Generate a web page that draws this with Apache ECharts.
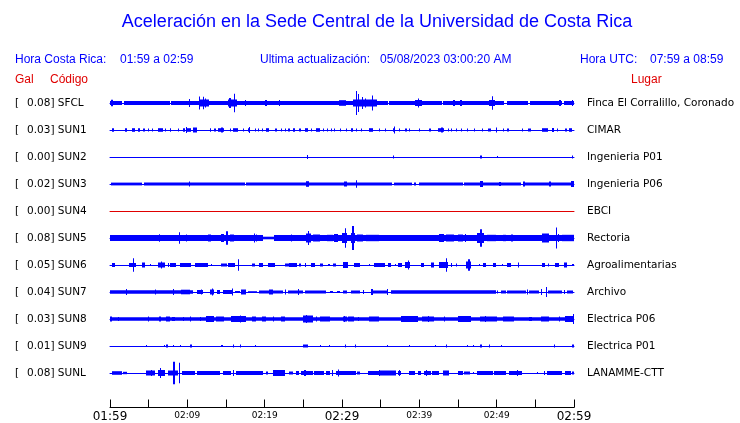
<!DOCTYPE html>
<html><head><meta charset="utf-8">
<script src="https://cdn.jsdelivr.net/npm/echarts@6/dist/echarts.min.js"></script>
<style>html,body{margin:0;padding:0;background:#fff}#c{width:740px;height:423px}</style>
</head><body><div id="c"></div>
<script>
// ---- data (minutes since 01:59, segments [start, end, half-amplitude]) ----
const codes = ['SFCL','SUN1','SUN2','SUN3','SUN4','SUN5','SUN6','SUN7','SUN8','SUN9','SUNL'];
const places = ['Finca El Corralillo, Coronado','CIMAR','Ingenieria P01','Ingenieria P06','EBCI','Rectoria','Agroalimentarias','Archivo','Electrica P06','Electrica P01','LANAMME-CTT'];
const gal = ['0.08','0.03','0.00','0.02','0.00','0.08','0.05','0.04','0.03','0.01','0.08'];
const offline = ['SUN4'];
const tickLabels = ['01:59','','02:09','','02:19','','02:29','','02:39','','02:49','','02:59'];
const majorLabels = ['01:59','02:29','02:59'];
const timeMin = 0, timeMax = 60, tickStep = 5;

const sfcl = [[0,1.5,2],[1.8,7.7,2],[7.95,35.9,2],[36.1,42.9,2],[43.1,51.0,2],[51.3,54.1,2],[54.3,58.5,2],[58.7,60,2],
 [0.1,0.35,3.3],[10.2,10.35,4],[11.5,12.8,3.5],[11.55,11.7,6.5],[12.0,12.15,6.2],[12.3,12.45,4.5],[15.3,16.4,3.5],[15.45,15.6,5],[16.0,16.15,9.3],[17.4,17.6,3],[20.1,20.3,3],[21.8,22.0,3],[29.6,30.5,2.8],[31.4,34.5,3.5],[31.75,31.9,12],[32.1,32.25,9],[32.6,32.75,6],[33.0,33.15,4.5],[33.9,34.05,7.5],[39.5,40.3,3],[39.85,40.0,4.5],[44.4,44.6,3],[45.3,45.5,3],[49.0,49.8,3],[49.35,49.5,6.7],[58.1,58.3,3],[59.7,59.9,3]];
const sun1 = [[0.2,0.5,1.8],[1.9,2.15,1.8],[2.8,3.2,1.8],[3.65,3.9,1.8],[4.3,4.5,1.5],[4.95,5.1,1.5],[5.4,5.55,1.5],[6.2,6.9,1.8],[7.1,7.3,1.5],[7.7,7.95,1.8],[8.8,8.95,1.5],[9.45,9.7,1.8],[9.8,9.95,3],[10.0,10.5,1.8],[10.75,11.2,2.5],[12.9,13.1,1.8],[13.5,13.65,1.5],[14.0,14.8,1.8],[14.3,14.6,2.5],[15.5,15.7,1.5],[15.9,16.6,1.8],[17.2,17.35,1.5],[17.9,18.15,1.8],[17.95,18.1,3],[18.7,18.85,1.5],[19.1,19.25,1.5],[19.6,19.75,1.5],[20.2,20.6,1.8],[21.3,21.45,1.5],[21.5,21.65,1.5],[22.15,22.3,1.5],[22.6,22.75,1.5],[23.0,23.3,1.5],[23.65,23.9,1.8],[24.5,24.65,1.5],[25.2,25.6,1.8],[26.0,26.15,1.5],[26.7,27.1,1.8],[27.5,27.65,1.5],[28.0,28.15,1.5],[28.6,28.75,1.5],[29.0,29.15,1.5],[29.7,29.85,1.5],[30.5,30.65,1.5],[31.2,31.4,1.8],[31.8,31.95,1.5],[32.4,32.55,1.5],[33.5,34.0,1.8],[34.8,34.95,1.5],[35.5,35.65,1.5],[36.6,36.9,1.8],[36.7,36.85,3.5],[37.4,37.55,1.5],[38.2,38.35,1.5],[38.7,38.85,1.5],[40.0,40.15,1.5],[41.3,41.45,1.5],[42.4,43.2,1.8],[42.85,43.0,2.5],[43.7,43.85,1.5],[44.1,44.25,1.5],[44.7,44.85,1.5],[45.4,45.55,1.5],[46.2,46.35,1.5],[47.1,47.25,1.5],[48.1,48.25,1.5],[48.9,49.3,1.5],[49.85,50.05,2.5],[50.8,50.95,1.5],[51.4,51.55,1.5],[53.3,53.45,1.5],[54.1,54.5,1.5],[55.8,56.6,1.8],[57.2,57.35,2],[57.8,57.95,1.5],[58.9,59.05,1.5],[59.3,59.8,1.8]];
const sun2 = [[25.45,25.6,2],[36.55,36.7,1.5],[47.9,48.15,1.5],[50.0,50.1,1],[59.7,59.9,1.5]];
const sun3 = [[0.1,4.2,1.4],[4.35,17.5,1.4],[17.65,25.6,1.4],[25.75,36.5,1.4],[36.7,39.0,1.4],[39.3,39.6,1.4],[39.9,45.6,1.4],[45.8,53.2,1.4],[53.4,60,1.4],
 [10.25,10.4,2.5],[25.3,25.7,2.8],[30.2,30.7,2.5],[31.75,31.9,3.8],[47.9,48.2,3],[50.35,50.5,2],[53.4,53.6,2.5],[56.8,57.0,2.5],[59.6,60,3]];
const sun4 = [];
const sun5 = [[0,19.8,2.9],[19.8,21.2,1.3],[21.2,60,2.9],
 [6.35,6.5,3.8],[8.95,9.1,5.8],[9.8,10.0,3.5],[12.7,13.0,3.5],[14.3,14.8,4],[15.05,15.2,6.7],[15.5,16.0,3.5],[18.6,18.75,4.5],[18.85,19.0,3.5],[23.4,23.55,3.5],[25.3,26.0,4.5],[25.55,25.7,7],[26.2,27.1,3.5],[28.0,28.9,3.2],[29.0,29.5,4],[30.0,30.7,5],[30.35,30.5,9.7],[31.1,31.7,5],[31.35,31.5,12],[32.0,32.7,3.5],[33.1,34.8,3.2],[42.6,43.2,4],[43.4,44.5,3.5],[45.0,45.6,3.5],[45.9,46.05,4],[47.5,48.4,5],[47.9,48.05,8.7],[48.8,49.9,3.2],[50.8,51.2,3.2],[51.8,52.1,3.5],[55.9,56.8,4.5],[57.7,57.85,10.5],[57.9,58.1,4],[58.5,60,3.2]];
const sun6 = [[0.2,0.65,2],[2.4,3.4,2],[2.95,3.1,6.7],[4.2,4.5,2.5],[5.15,5.3,1],[6.2,7.1,2.5],[6.6,6.75,3.5],[7.5,7.65,2],[7.75,8.5,2],[9.0,10.5,2],[11.0,12.7,2],[13.1,13.25,1],[14.4,15.1,1.5],[15.3,16.1,2],[16.55,16.7,5.8],[18.3,18.8,1.5],[19.3,19.8,2],[20.4,21.3,2],[22.6,23.1,1.5],[23.2,24.2,2],[24.5,24.75,1.5],[25.2,25.4,2],[26.0,26.5,2],[27.1,27.6,1.5],[28.2,28.4,1],[28.8,29.2,1.5],[30.1,30.8,3],[31.6,32.3,2],[33.5,33.65,1],[34.2,35.5,2],[35.9,36.3,2],[36.8,36.95,1],[37.2,37.7,2],[38.1,38.8,3],[38.5,38.65,4.5],[40.2,40.6,2],[41.5,41.9,2.5],[42.6,43.7,3],[43.45,43.6,6.7],[44.1,44.25,2],[44.7,44.85,1.5],[46.0,46.7,3.5],[46.35,46.5,5.8],[47.7,47.85,1],[48.2,48.6,2],[49.5,49.9,2],[50.7,50.85,1],[51.4,51.8,2],[52.7,52.95,2.5],[55.9,56.3,2],[56.6,56.8,1.5],[57.6,58.0,2],[58.7,59.1,2.5],[59.8,59.95,1]];
const sun7 = [[0,10.75,1.8],[2.1,2.25,3],[5.8,5.95,2.5],[8.15,8.3,3],[9.2,10.3,2.3],[11.2,12.0,2],[11.8,11.95,2.5],[12.9,13.5,2.5],[13.2,13.35,3.5],[13.8,14.2,2],[14.6,15.9,2],[15.75,15.9,3.5],[16.1,16.8,1],[17.0,17.6,2.5],[17.8,19.0,0.8],[19.3,20.6,1.5],[20.6,21.1,2.5],[21.1,22.4,1.5],[22.6,22.8,2.5],[23.0,24.9,1.5],[24.3,24.45,3],[25.2,27.9,1.5],[28.4,28.8,1],[29.3,29.7,1],[30.1,30.7,1.5],[31.2,32.3,1.5],[32.7,32.9,2],[33.8,33.95,3],[33.95,35.9,1.5],[35.85,36.0,3],[36.3,49.9,1.8],[50.0,50.15,1.5],[50.6,51.2,1.5],[51.4,53.8,1.5],[53.95,54.1,2.5],[54.2,55.5,1.5],[55.75,55.9,3],[56.35,56.5,5],[56.6,58.5,1.5],[58.65,58.8,2],[59.1,59.9,1.5]];
const sun8 = [[0,60,1.8],
 [0,0.25,2.5],[1.0,1.1,2],[4.9,5.05,2.5],[6.4,6.55,2.5],[7.3,7.7,2.5],[8.0,8.4,2],[9.45,9.6,2],[10.3,10.45,2.5],[11.6,11.75,2],[12.4,13.5,3],[13.75,14.8,2.5],[15.7,17.6,3],[16.75,16.9,3.5],[18.3,18.9,2.5],[19.6,20.2,2.5],[21.05,21.2,2.5],[22.1,22.6,2.5],[24.9,26.2,3.5],[25.3,25.45,4],[26.6,26.75,2.5],[27.1,28.4,2.5],[30.1,30.6,2.5],[30.3,30.45,3],[30.75,31.6,2.5],[32.05,32.2,2],[33.55,34.8,2.5],[37.6,39.8,3],[40.4,41.9,2.5],[41.15,41.3,3],[43.2,43.35,2.5],[45.0,46.7,3],[47.9,50.1,2.5],[48.5,48.65,3],[50.8,52.3,2.5],[54.2,54.6,2],[55.7,56.8,2.5],[58.0,58.15,2.5],[58.9,60,3],[59.85,60,5]];
const sun9 = [[4.65,4.8,1],[6.95,7.1,1],[7.3,7.45,1.5],[8.1,8.25,1],[9.0,9.15,1],[10.3,10.55,1.5],[14.4,14.55,1],[15.9,16.05,1.5],[16.75,16.9,1.5],[18.7,18.85,1],[24.9,25.6,1.5],[27.1,27.25,1],[28.3,28.45,1],[30.4,30.55,1.5],[31.7,31.85,1.5],[35.8,35.95,1],[38.6,38.75,1],[42.0,42.15,1],[43.4,43.55,1.5],[46.2,46.35,1],[46.9,47.05,1],[47.9,48.15,1.5],[48.95,49.1,1.5],[50.5,50.65,1],[57.4,57.55,1.5],[59.8,60,1.5]];
const sunl = [[0.2,1.5,1.8],[1.7,2.15,1.2],[4.7,5.8,2.5],[5.3,5.45,3],[6.2,7.1,3],[6.45,6.6,5],[7.5,8.8,2.5],[8.2,8.35,11.3],[8.95,9.1,10.3],[9.25,11.0,2],[11.2,14.2,2],[14.6,15.7,2],[15.85,16.0,3],[16.3,19.8,2],[20.2,20.4,1.5],[21.1,22.6,3],[23.2,23.6,1.5],[24.1,24.5,2],[24.7,26.2,2],[25.15,25.3,3],[26.4,27.7,2],[27.9,28.4,2],[28.75,28.9,3],[29.2,30.1,2],[29.45,29.6,3.5],[30.1,31.8,2],[32.0,32.3,1.5],[33.3,34.8,2],[34.75,34.9,3],[34.9,37.0,2.5],[37.2,37.6,2],[37.35,37.5,3],[38.7,39.4,2],[39.8,40.2,2],[40.6,41.5,2],[40.85,41.0,3],[41.7,42.6,2],[43.0,43.9,2.5],[45.0,45.6,2],[45.8,46.5,1.5],[46.9,47.05,1],[47.5,49.5,2],[49.7,51.2,2],[51.6,53.3,2],[52.6,52.75,3],[55.2,55.35,1],[56.1,56.3,2],[56.5,58.5,2],[58.9,59.6,2],[59.8,60,1.5]];
const traces = [sfcl, sun1, sun2, sun3, sun4, sun5, sun6, sun7, sun8, sun9, sunl];

// ---- styles / layout ----
const BLUE = '#0000ff', RED = '#e00000', TXT = '#000000';
const plotLeft = 110, plotWidth = 464, rowTop = 103, rowGap = 27, halfRow = 13.5;
const sans = 'Liberation Sans, Arial, sans-serif';
const dj = 'DejaVu Sans, sans-serif';
const lblFont = '10.5px ' + dj;

const grids = [], xAxes = [], yAxes = [], series = [], graphics = [];
codes.forEach((code, i) => {
  const cy = rowTop + rowGap * i;
  const col = offline.includes(code) ? RED : BLUE;
  grids.push({left: plotLeft, width: plotWidth, top: cy - halfRow, height: halfRow * 2});
  xAxes.push({gridIndex: i, type: 'value', min: timeMin, max: timeMax,
    axisLine: {show: true, onZero: true, lineStyle: {color: col, width: 1}},
    axisTick: {show: false}, axisLabel: {show: false}, splitLine: {show: false}});
  yAxes.push({gridIndex: i, type: 'value', min: -halfRow, max: halfRow, show: false, splitLine: {show: false}});
  series.push({type: 'custom', xAxisIndex: i, yAxisIndex: i, data: traces[i], silent: true, clip: false,
    renderItem(params, api) {
      const a = api.value(2);
      const p0 = api.coord([api.value(0), a]);
      const p1 = api.coord([api.value(1), -a]);
      const x = Math.round(p0[0]);
      const w = Math.max(1, Math.round(p1[0]) - x);
      return {type: 'rect', shape: {x: x, y: p0[1], width: w, height: p1[1] - p0[1]}, style: {fill: col}};
    }});
  graphics.push({type: 'text', x: 15, y: cy, style: {text: '[', font: lblFont, fill: TXT, verticalAlign: 'middle'}});
  graphics.push({type: 'text', x: 27, y: cy, style: {text: gal[i] + '] ' + code, font: lblFont, fill: TXT, verticalAlign: 'middle'}});
  graphics.push({type: 'text', x: 587, y: cy, style: {text: places[i], font: lblFont, fill: TXT, verticalAlign: 'middle'}});
});

// time axis grid
const ti = codes.length;
grids.push({left: plotLeft, width: plotWidth, top: 380, height: 29});
xAxes.push({gridIndex: ti, type: 'value', min: timeMin, max: timeMax, interval: tickStep,
  axisLine: {show: true, lineStyle: {color: '#000', width: 1}},
  axisTick: {show: true, inside: true, length: 8, lineStyle: {color: '#000'}},
  splitLine: {show: false},
  axisLabel: {show: true, margin: 2, showMinLabel: true, showMaxLabel: true, hideOverlap: false,
    formatter: (v) => {
      const t = tickLabels[Math.round((v - timeMin) / tickStep)] || '';
      if (!t) return '';
      return majorLabels.includes(t) ? '{b|' + t + '}' : '{s|' + t + '}';
    },
    rich: {b: {fontSize: 12, lineHeight: 15, fontFamily: dj, color: '#000'},
           s: {fontSize: 9, lineHeight: 12, fontFamily: dj, color: '#000'}}}});
yAxes.push({gridIndex: ti, type: 'value', min: 0, max: 1, show: false});

// header texts
graphics.push({type: 'text', x: 377, y: 22, style: {text: 'Aceleración en la Sede Central de la Universidad de Costa Rica', font: '18px ' + sans, fill: BLUE, align: 'center', verticalAlign: 'middle'}});
graphics.push({type: 'text', x: 15, y: 60, style: {text: 'Hora Costa Rica:', font: '12px ' + sans, fill: BLUE, verticalAlign: 'middle'}});
graphics.push({type: 'text', x: 120, y: 60, style: {text: '01:59 a 02:59', font: '12px ' + sans, fill: BLUE, verticalAlign: 'middle'}});
graphics.push({type: 'text', x: 260, y: 60, style: {text: 'Ultima actualización:', font: '12px ' + sans, fill: BLUE, verticalAlign: 'middle'}});
graphics.push({type: 'text', x: 380, y: 60, style: {text: '05/08/2023 03:00:20 AM', font: '12px ' + sans, fill: BLUE, verticalAlign: 'middle'}});
graphics.push({type: 'text', x: 580, y: 60, style: {text: 'Hora UTC:', font: '12px ' + sans, fill: BLUE, verticalAlign: 'middle'}});
graphics.push({type: 'text', x: 650, y: 60, style: {text: '07:59 a 08:59', font: '12px ' + sans, fill: BLUE, verticalAlign: 'middle'}});
graphics.push({type: 'text', x: 15, y: 80, style: {text: 'Gal', font: '12px ' + sans, fill: RED, verticalAlign: 'middle'}});
graphics.push({type: 'text', x: 50, y: 80, style: {text: 'Código', font: '12px ' + sans, fill: RED, verticalAlign: 'middle'}});
graphics.push({type: 'text', x: 631, y: 80, style: {text: 'Lugar', font: '12px ' + sans, fill: RED, verticalAlign: 'middle'}});

const chart = echarts.init(document.getElementById('c'), null, {renderer: 'canvas'});
chart.setOption({animation: false, backgroundColor: '#fff', grid: grids, xAxis: xAxes, yAxis: yAxes, series: series, graphic: graphics});
</script></body></html>
